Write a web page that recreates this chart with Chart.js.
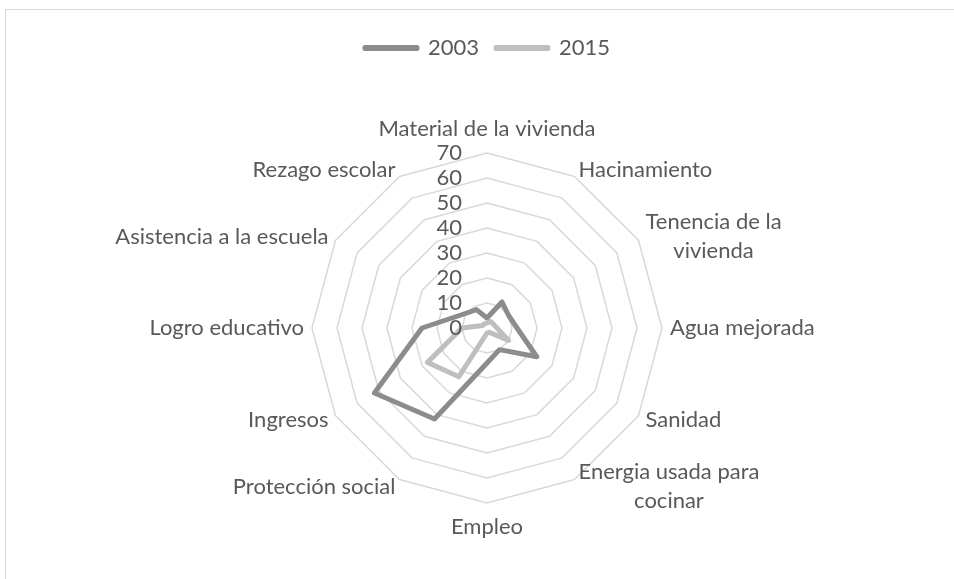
<!DOCTYPE html>
<html>
<head>
<meta charset="utf-8">
<title>Privaciones 2003 - 2015</title>
<script src="https://cdn.jsdelivr.net/npm/chart.js@4.4.0/dist/chart.umd.min.js"></script>
<style>
  html, body { margin: 0; padding: 0; background: #fff; overflow: hidden; }
  #frame { position: absolute; left: 5px; top: 9px; width: 1000px; height: 1000px; border: 1.5px solid #d9d9d9; }
  #radarChart { position: absolute; left: 0; top: 0; }
</style>
</head>
<body>
<div id="frame"></div>
<canvas id="radarChart" width="954" height="600"></canvas>
<script>
const categories = [
  "Material de la vivienda",
  "Hacinamiento",
  ["Tenencia de la", "vivienda"],
  "Agua mejorada",
  "Sanidad",
  ["Energia usada para", "cocinar"],
  "Empleo",
  "Protección social",
  "Ingresos",
  "Logro educativo",
  "Asistencia a la escuela",
  "Rezago escolar"
];
const values2003 = [4, 12, 10, 12, 23, 10, 14, 42, 52, 26, 11, 8.5];
const values2015 = [2, 3, 3, 4, 10, 2, 2, 22.5, 27.5, 10, 2, 2];
const tickValues = [0, 10, 20, 30, 40, 50, 60, 70];

const textColor = "#595959";
const fontSize = 22;
const labelFont = fontSize + "px Lato";

// Excel-style labels: ticks left of the vertical axis, categories just outside the outer ring
const excelLabels = {
  id: "excelLabels",
  afterDraw(chart) {
    const scale = chart.scales.r;
    const c = chart.ctx;
    c.save();
    c.font = labelFont;
    c.fillStyle = textColor;
    c.textBaseline = "middle";

    c.textAlign = "right";
    tickValues.forEach(v => {
      const y = scale.yCenter - scale.getDistanceFromCenterForValue(v);
      c.fillText(String(v), scale.xCenter - 25, y);
    });

    const lineH = 29;
    categories.forEach((label, i) => {
      const lines = Array.isArray(label) ? label : [label];
      const p = scale.getPointPosition(i, scale.drawingArea + 8);
      const deg = Math.round(i * 360 / categories.length);
      const w = Math.max(...lines.map(t => c.measureText(t).width));
      let left = p.x;
      let y = p.y;
      if (deg === 0) { left = p.x - w / 2; y -= 16; }
      else if (deg === 180) { left = p.x - w / 2; y += 16; }
      else if (deg > 180) left = p.x - w;
      c.textAlign = "center";
      y -= (lines.length - 1) * lineH / 2;
      lines.forEach((t, k) => c.fillText(t, left + w / 2, y + k * lineH));
    });
    c.restore();
  }
};

const ctx = document.getElementById("radarChart");

new Chart(ctx, {
  type: "radar",
  data: {
    labels: categories,
    datasets: [
      {
        label: "2003",
        data: values2003,
        borderColor: "#8c8c8c",
        backgroundColor: "#8c8c8c",
        borderWidth: 5,
        borderJoinStyle: "round",
        fill: false,
        pointRadius: 0,
        order: 1
      },
      {
        label: "2015",
        data: values2015,
        borderColor: "#bfbfbf",
        backgroundColor: "#bfbfbf",
        borderWidth: 5,
        borderJoinStyle: "round",
        fill: false,
        pointRadius: 0,
        order: 0
      }
    ]
  },
  options: {
    responsive: false,
    animation: false,
    devicePixelRatio: 1,
    layout: {
      padding: { top: 20, left: 312, right: 291, bottom: 13 }
    },
    plugins: {
      tooltip: { enabled: false },
      legend: {
        position: "top",
        labels: {
          boxWidth: 52,
          boxHeight: 1,
          padding: 17,
          color: textColor,
          font: { family: "Lato", size: fontSize },
          sort: (a, b) => a.datasetIndex - b.datasetIndex
        }
      }
    },
    scales: {
      r: {
        min: 0,
        max: 70,
        ticks: { stepSize: 10, display: false },
        grid: { color: "#d9d9d9", lineWidth: 1.5 },
        angleLines: { display: false },
        pointLabels: { display: false }
      }
    }
  },
  plugins: [excelLabels]
});
</script>
</body>
</html>
